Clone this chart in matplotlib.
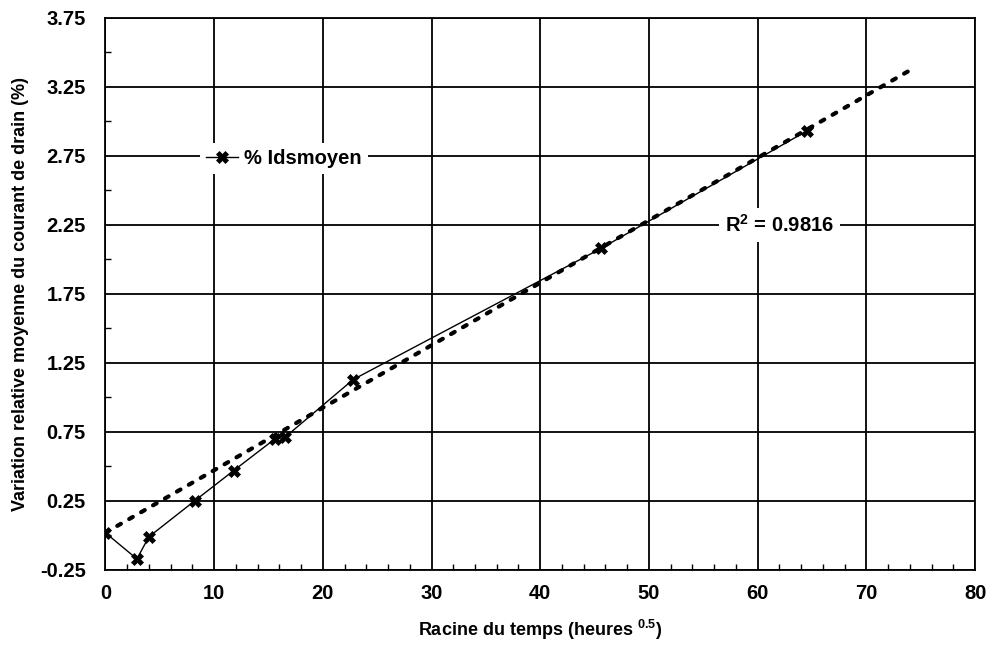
import matplotlib
matplotlib.use("Agg")
import matplotlib.pyplot as plt
from matplotlib.ticker import MultipleLocator, FormatStrFormatter

plt.rcParams['font.family'] = ['Liberation Sans', 'DejaVu Sans']
plt.rcParams['font.weight'] = 'bold'
plt.rcParams['mathtext.fontset'] = 'custom'
plt.rcParams['mathtext.rm'] = 'Liberation Sans:bold'
plt.rcParams['mathtext.bf'] = 'Liberation Sans:bold'

# measured points: sqrt(hours) vs mean relative drain current variation (%)
racine_temps = [0, 2.9, 4.0, 8.2, 11.8, 15.6, 16.5, 22.8, 45.6, 64.5]
ids_moyen = [0.02, -0.17, -0.01, 0.25, 0.47, 0.70, 0.71, 1.13, 2.08, 2.93]

# linear trendline as drawn on the chart (end points)
trend_x = [0, 74]
trend_y = [0.02, 3.37]
r2_label = "R$^2$ = 0.9816"

x_ticks = [0, 10, 20, 30, 40, 50, 60, 70, 80]
y_ticks = [-0.25, 0.25, 0.75, 1.25, 1.75, 2.25, 2.75, 3.25, 3.75]

fig = plt.figure(figsize=(9.94, 6.62), dpi=100)
ax = fig.add_axes([0.106, 0.139, 0.875, 0.834])

ax.plot(trend_x, trend_y, color='black', lw=3.0, linestyle=(0, (1.0, 2.3)),
        dash_capstyle='round', zorder=3)
ax.plot(racine_temps, ids_moyen, color='black', lw=1.0, marker='X',
        markersize=8, markeredgewidth=0.5, label='% Idsmoyen', zorder=4)

ax.set_xlim(0, 80)
ax.set_ylim(-0.25, 3.75)
ax.set_xticks(x_ticks)
ax.set_yticks(y_ticks)
ax.yaxis.set_major_formatter(FormatStrFormatter('%.2f'))
ax.xaxis.set_minor_locator(MultipleLocator(2))
ax.yaxis.set_minor_locator(MultipleLocator(0.25))
ax.grid(True, which='major', color='black', lw=1.3)
ax.tick_params(which='major', length=0, labelsize=14.5, pad=14)
ax.tick_params(axis='x', which='major', pad=10)
ax.tick_params(which='minor', direction='in', length=4, width=1)
for sp in ax.spines.values():
    sp.set_linewidth(1.3)

ax.set_xlabel("Racine du temps (heures $^{0.5}$)", fontsize=13, fontweight='bold', labelpad=11)
ax.set_ylabel("Variation relative moyenne du courant de drain (%)", fontsize=13,
              fontweight='bold', labelpad=8)

ax.text(57, 2.25, r2_label, fontsize=14.5, fontweight='bold', va='center', ha='left',
        bbox=dict(facecolor='white', edgecolor='none', pad=4), zorder=5)

leg = ax.legend(loc='center left', bbox_to_anchor=(0.097, 0.745), frameon=True,
                facecolor='white', edgecolor='none', framealpha=1, fancybox=False,
                fontsize=14.5, handlelength=1.6, handletextpad=0.3, borderpad=0.3)
for t in leg.get_texts():
    t.set_fontweight('bold')

fig.savefig("out.png", dpi=100)
